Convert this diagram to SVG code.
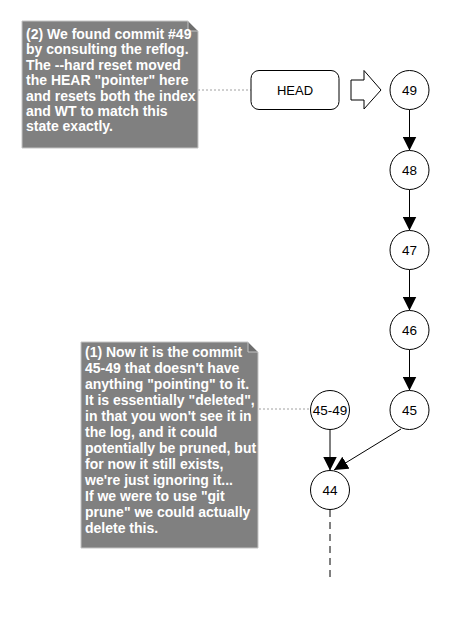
<svg xmlns="http://www.w3.org/2000/svg" width="450" height="620" viewBox="0 0 450 620">
<style>
.note{fill:#808080;stroke:#c4c4c4;stroke-width:1}
.fold{fill:#6e6e6e;stroke:#c4c4c4;stroke-width:1}
.nt{font-family:"Liberation Sans",Arial,sans-serif;font-size:14px;font-weight:bold;fill:#ffffff}
.c{fill:#ffffff;stroke:#000000;stroke-width:1}
.lbl{font-family:"Liberation Sans",Arial,sans-serif;font-size:13.5px;fill:#000000;text-anchor:middle}
.hl{font-family:"Liberation Sans",Arial,sans-serif;font-size:13px;fill:#000000;text-anchor:middle}
.e{stroke:#000000;stroke-width:1;fill:none}
.dot{stroke:#a0a0a0;stroke-width:1;stroke-dasharray:2,2;fill:none}
.dash{stroke:#000000;stroke-width:1;stroke-dasharray:7,5;fill:none}
</style>
<defs>
<marker id="ah" markerWidth="14" markerHeight="14" refX="14" refY="7" orient="auto" markerUnits="userSpaceOnUse">
<path d="M0,0 L14,7 L0,14 Z" fill="#000000"/>
</marker>
</defs>
<g id="connectors">
<line class="dot" x1="198" y1="90" x2="251" y2="90"/>
<line class="dot" x1="259" y1="409" x2="310" y2="409"/>
<line class="e" x1="409.5" y1="109.5" x2="409.5" y2="150.5" marker-end="url(#ah)"/>
<line class="e" x1="409.5" y1="189.5" x2="409.5" y2="230.5" marker-end="url(#ah)"/>
<line class="e" x1="409.5" y1="269.5" x2="409.5" y2="310.5" marker-end="url(#ah)"/>
<line class="e" x1="409.5" y1="349.5" x2="409.5" y2="390.5" marker-end="url(#ah)"/>
<line class="e" x1="330" y1="429.5" x2="330" y2="470.5" marker-end="url(#ah)"/>
<line class="e" x1="401" y1="429" x2="334" y2="470" marker-end="url(#ah)"/>
<line class="dash" x1="330" y1="510" x2="330" y2="580"/>
<polygon class="c" points="351,80 364,80 364,70.5 381,90 364,109 364,100 351,100"/>
</g>
<g id="note2">
<path class="note" d="M22,21 H188 L198,31 V148 H22 Z"/>
<path class="fold" d="M188,21 V31 H198 Z"/>
<text class="nt" x="26" y="39">(2) We found commit #49</text>
<text class="nt" x="26" y="54.4">by consulting the reflog.</text>
<text class="nt" x="26" y="69.8">The --hard reset moved</text>
<text class="nt" x="26" y="85.2">the HEAR "pointer" here</text>
<text class="nt" x="26" y="100.6">and resets both the index</text>
<text class="nt" x="26" y="116">and WT to match this</text>
<text class="nt" x="26" y="131.4">state exactly.</text>
</g>
<g id="note1">
<path class="note" d="M81,342 H248 L258,352 V548 H81 Z"/>
<path class="fold" d="M248,342 V352 H258 Z"/>
<text class="nt" x="85" y="357">(1) Now it is the commit</text>
<text class="nt" x="85" y="373">45-49 that doesn't have</text>
<text class="nt" x="85" y="389">anything "pointing" to it.</text>
<text class="nt" x="85" y="405">It is essentially "deleted",</text>
<text class="nt" x="85" y="421">in that you won't see it in</text>
<text class="nt" x="85" y="437">the log, and it could</text>
<text class="nt" x="85" y="453">potentially be pruned, but</text>
<text class="nt" x="85" y="469">for now it still exists,</text>
<text class="nt" x="85" y="485">we're just ignoring it...</text>
<text class="nt" x="85" y="501">If we were to use "git</text>
<text class="nt" x="85" y="517">prune" we could actually</text>
<text class="nt" x="85" y="533">delete this.</text>
</g>
<g id="head">
<rect class="c" x="251" y="70.5" width="88" height="39" rx="8" ry="8"/>
<text class="hl" x="295" y="94.5">HEAD</text>
</g>
<g id="c49"><circle class="c" cx="409.5" cy="90" r="19.5"/><text class="lbl" x="409.5" y="95">49</text></g>
<g id="c48"><circle class="c" cx="409.5" cy="170" r="19.5"/><text class="lbl" x="409.5" y="175">48</text></g>
<g id="c47"><circle class="c" cx="409.5" cy="250" r="19.5"/><text class="lbl" x="409.5" y="255">47</text></g>
<g id="c46"><circle class="c" cx="409.5" cy="330" r="19.5"/><text class="lbl" x="409.5" y="335">46</text></g>
<g id="c45"><circle class="c" cx="409.5" cy="410" r="19.5"/><text class="lbl" x="409.5" y="415">45</text></g>
<g id="c4549"><circle class="c" cx="330" cy="410" r="19.5"/><text class="lbl" x="330" y="415">45-49</text></g>
<g id="c44"><circle class="c" cx="330" cy="490" r="19.5"/><text class="lbl" x="330" y="495">44</text></g>
</svg>
